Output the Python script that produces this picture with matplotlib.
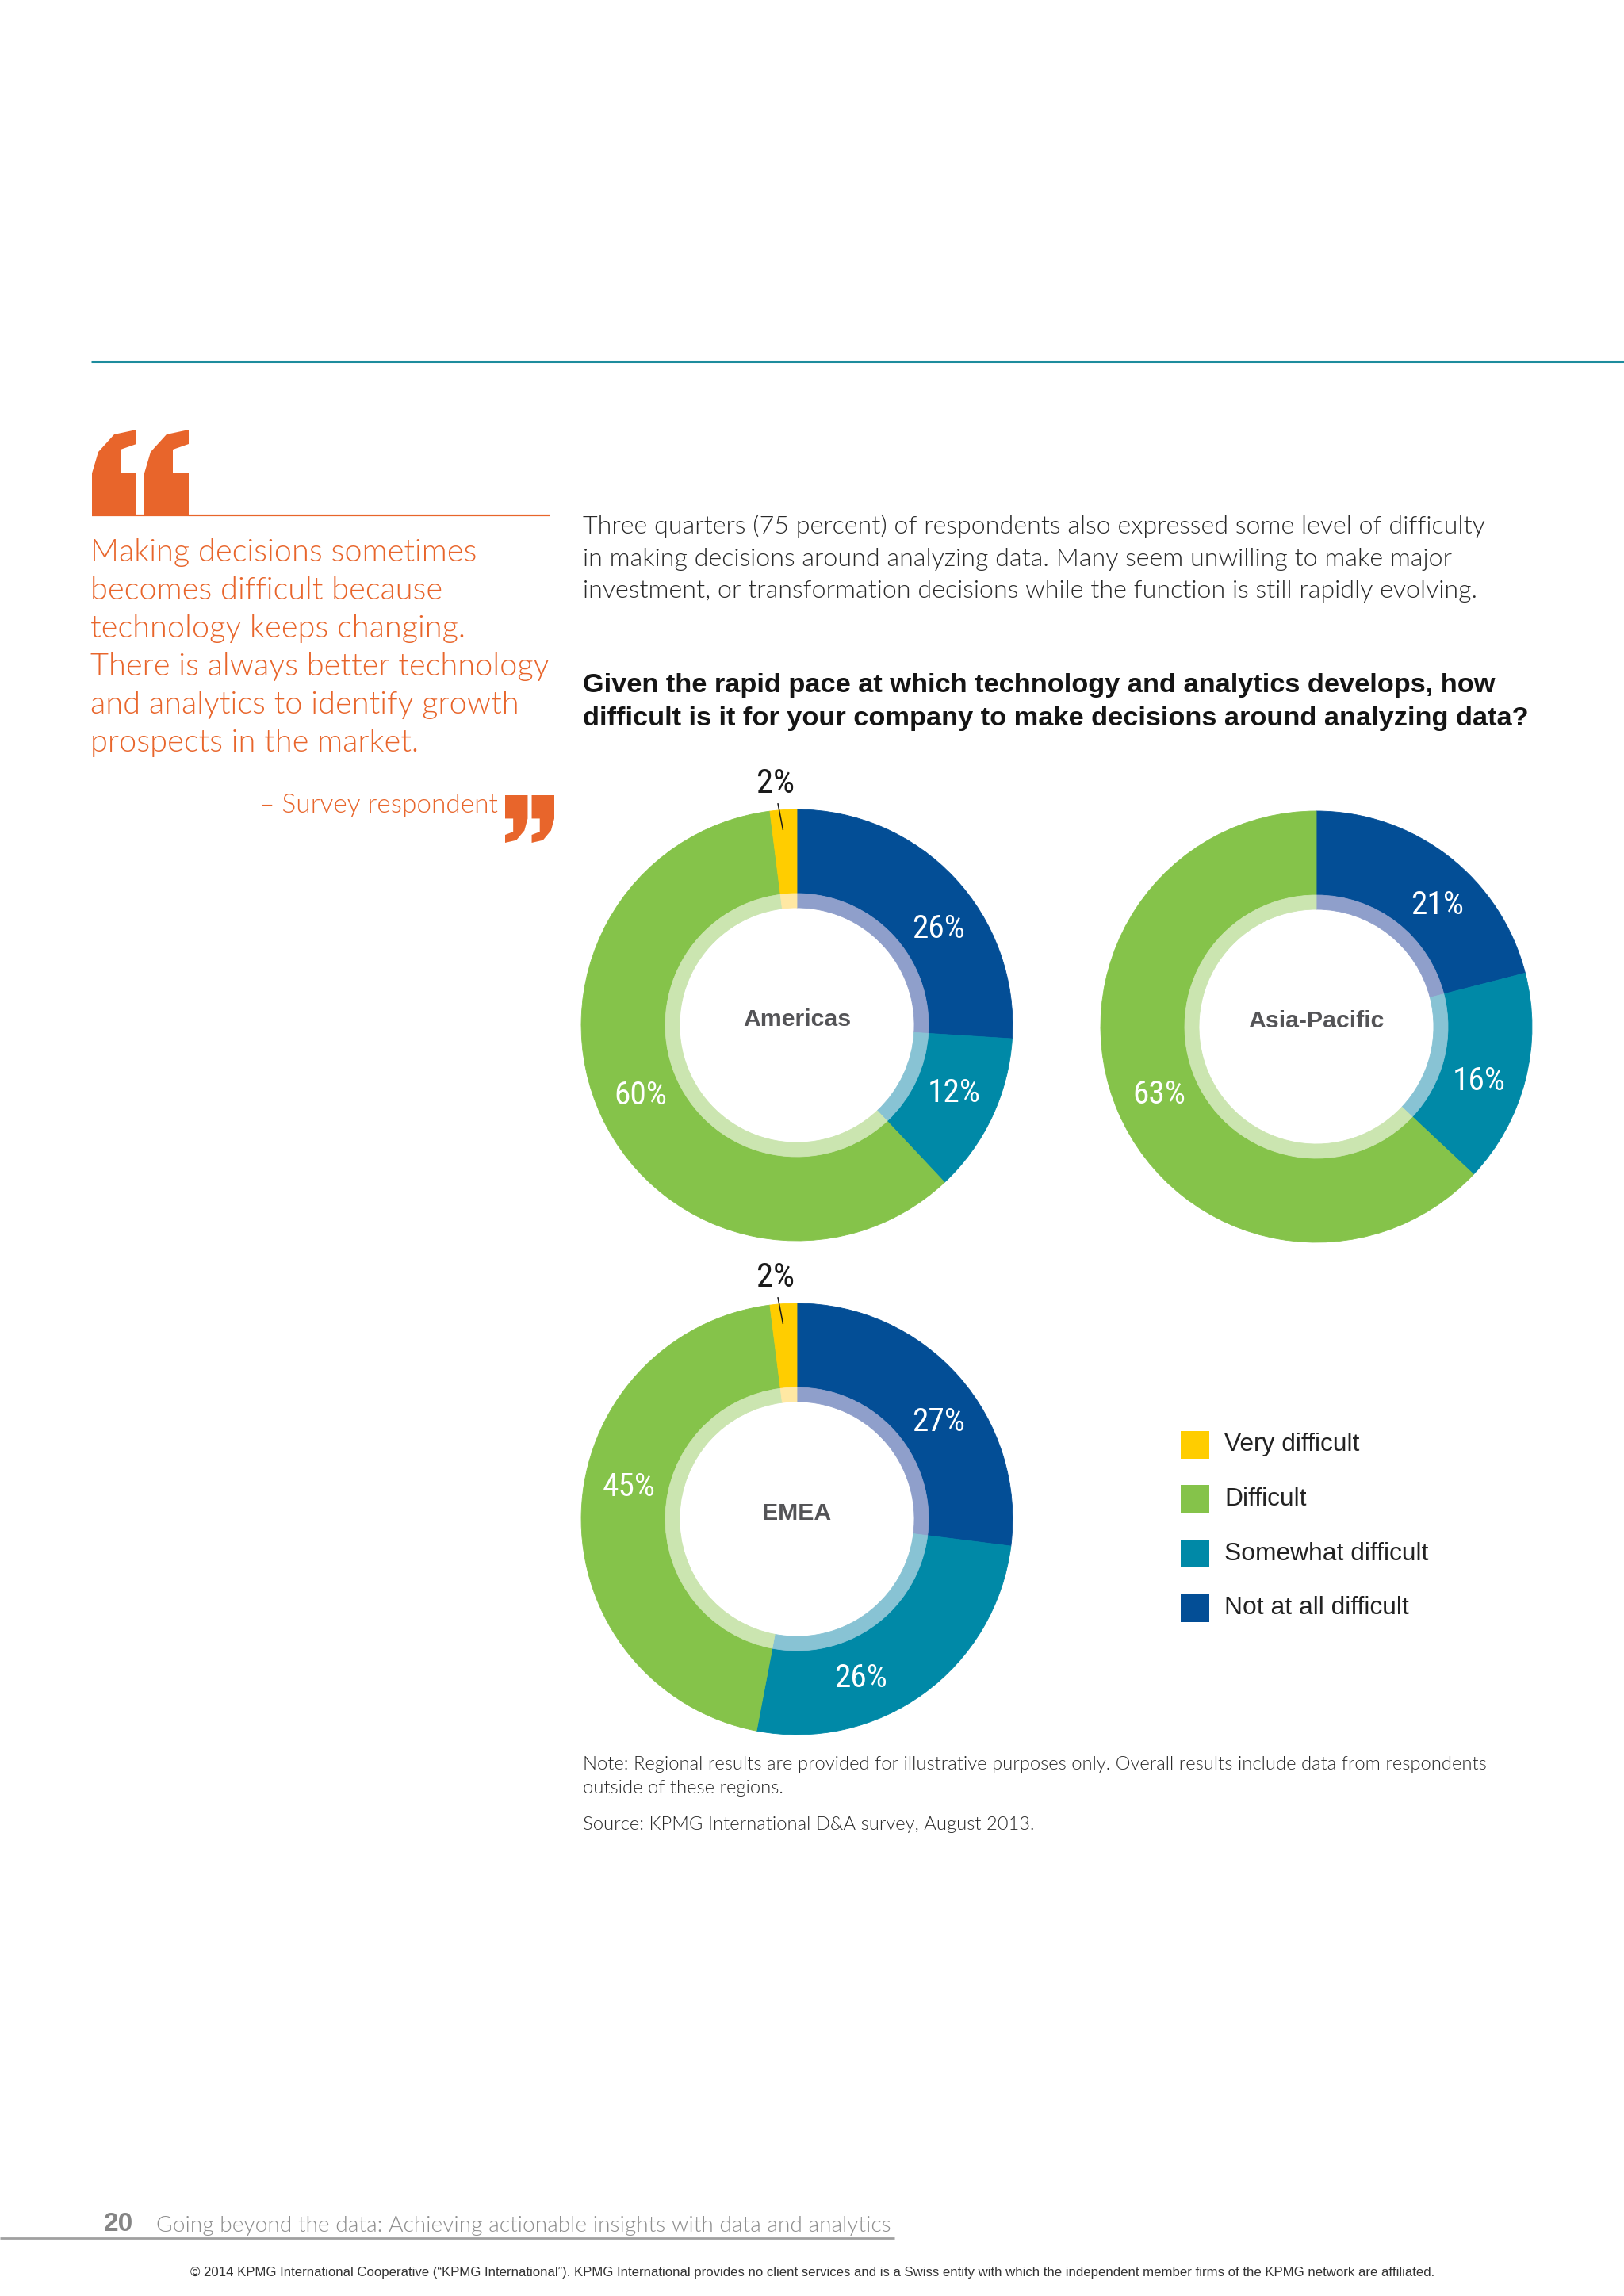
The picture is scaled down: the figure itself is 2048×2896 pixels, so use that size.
import numpy as np
import matplotlib
matplotlib.use('Agg')
import matplotlib.pyplot as plt
from matplotlib.patches import Polygon, Rectangle

# ---------------- data ----------------
regions = ['Americas', 'Asia-Pacific', 'EMEA']
categories = ['Very difficult', 'Difficult', 'Somewhat difficult', 'Not at all difficult']
# percentages per region
very_difficult = [2, 0, 2]
difficult = [60, 63, 45]
somewhat_difficult = [12, 16, 26]
not_at_all_difficult = [26, 21, 27]

cat_colors = ['#FFCD00', '#85C34A', '#0089A7', '#034E96']
ring_colors = ['#FFE8A3', '#CBE5B0', '#88C3D4', '#8F9FCB']

# ---------------- layout (pixel coordinates of the page) ----------------
W, H = 2048, 2896
donut_centers = [(1005, 1293), (1660, 1295), (1005, 1916)]
R_OUT, R_RING, R_HOLE = 272, 166, 148
# small angular nudges (deg) of inside labels, order: not-at-all, somewhat, difficult
label_nudge = [[9, -2, 1], [7, 4, 0], [7, 14, 9]]

ORANGE = '#E8652B'
LIGHT = ['Lato', 'DejaVu Sans']
SANS = ['Liberation Sans', 'DejaVu Sans']
NARROW = ['Roboto Condensed', 'DejaVu Sans']

fig = plt.figure(figsize=(W / 100, H / 100), dpi=100)
fig.patch.set_facecolor('white')
page = fig.add_axes([0, 0, 1, 1])
page.set_xlim(0, W)
page.set_ylim(H, 0)
page.axis('off')
renderer = fig.canvas.get_renderer()


def fit(artists, ref, target_w):
    bb = ref.get_window_extent(renderer)
    fs = ref.get_fontsize() * target_w / bb.width
    for a in artists:
        a.set_fontsize(fs)


def para(lines, x, ys, ref_idx, target_w, **kw):
    ts = [page.text(x, y, s, **kw) for s, y in zip(lines, ys)]
    fit(ts, ts[ref_idx], target_w)
    return ts


# top rule
page.plot([115, W], [456, 456], color='#1D8C9D', lw=2.2, solid_capstyle='butt')

# opening quote glyph (decorative)
glyph = np.array([(116, 650), (172, 650), (172, 597), (152, 597), (152, 567), (172, 560),
                  (172, 542), (144, 548), (124, 570), (116, 597)], dtype=float)
for dx in (0, 66):
    page.add_patch(Polygon(glyph + [dx, 0], closed=True, fc=ORANGE, ec='none'))
page.plot([116, 693], [650, 650], color=ORANGE, lw=1.6, solid_capstyle='butt')

# closing quote glyph: rotated copy
for dx in (0, 66):
    g = glyph + [dx, 0]
    u = (g[:, 0] - 116) / 122.0
    v = (g[:, 1] - 542) / 108.0
    cg = np.column_stack([637 + (1 - u) * 62, 1003 + (1 - v) * 60])
    page.add_patch(Polygon(cg, closed=True, fc=ORANGE, ec='none'))

quote_lines = ['Making decisions sometimes', 'becomes difficult because',
               'technology keeps changing.', 'There is always better technology',
               'and analytics to identify growth', 'prospects in the market.']
para(quote_lines, 114, [697, 745, 793, 841, 889, 937], 3, 580,
     color=ORANGE, family=LIGHT, fontweight=300, va='center', ha='left', fontsize=27)
t = page.text(628, 1016, '\u2013 Survey respondent', color=ORANGE, family=LIGHT,
              fontweight=300, va='center', ha='right', fontsize=22)
fit([t], t, 301)

body = ['Three quarters (75 percent) of respondents also expressed some level of difficulty',
        'in making decisions around analyzing data. Many seem unwilling to make major',
        'investment, or transformation decisions while the function is still rapidly evolving.']
para(body, 735, [664, 705, 746], 0, 1141, color='#2A2A2A', family=LIGHT,
     fontweight=300, va='center', ha='left', fontsize=22)

question = ['Given the rapid pace at which technology and analytics develops, how',
            'difficult is it for your company to make decisions around analyzing data?']
para(question, 735, [865, 906], 1, 1193, color='#151515', family=SANS,
     fontweight='bold', va='center', ha='left', fontsize=22)

# ---------------- donuts ----------------
half = 1.25 * R_OUT
centre_texts = []
inside_labels = []
outside_labels = []
for i, region in enumerate(regions):
    cx, cy = donut_centers[i]
    ax = fig.add_axes([(cx - half) / W, 1 - (cy + half) / H, 2 * half / W, 2 * half / H])
    vals = [not_at_all_difficult[i], somewhat_difficult[i], difficult[i], very_difficult[i]]
    cols = [cat_colors[3], cat_colors[2], cat_colors[1], cat_colors[0]]
    rcols = [ring_colors[3], ring_colors[2], ring_colors[1], ring_colors[0]]
    keep = [k for k, v in enumerate(vals) if v > 0]
    v_k = [vals[k] for k in keep]
    w1, _ = ax.pie(v_k, colors=[cols[k] for k in keep], radius=1.0, startangle=90,
                   counterclock=False, wedgeprops=dict(width=1 - R_RING / R_OUT, linewidth=0))
    w2, _ = ax.pie(v_k, colors=[rcols[k] for k in keep], radius=R_RING / R_OUT, startangle=90,
                   counterclock=False, wedgeprops=dict(width=(R_RING - R_HOLE) / R_OUT, linewidth=0))
    for w in list(w1) + list(w2):
        w.set_edgecolor(w.get_facecolor())
        w.set_linewidth(0.6)
    ax.set_xlim(-1.25, 1.25)
    ax.set_ylim(-1.25, 1.25)
    ax.set_aspect('equal')
    ax.axis('off')

    total = float(sum(vals))
    cum = 0.0
    for k, v in enumerate(vals):
        if v <= 0:
            continue
        mid = 360.0 * (cum + v / 2.0) / total
        cum += v
        if v >= 5:
            th = np.radians(mid + label_nudge[i][k])
            r = 216.0 / R_OUT
            inside_labels.append(ax.text(r * np.sin(th), r * np.cos(th), f'{v}%', ha='center',
                                         va='center', color='white', family=NARROW,
                                         fontstretch='condensed', fontsize=29))
        else:
            thl = np.radians(mid - 1.4)
            outside_labels.append(ax.text(1.125 * np.sin(thl), 1.125 * np.cos(thl), f'{v}%',
                                          ha='center', va='center', color='#1A1A1A',
                                          family=NARROW, fontstretch='condensed', fontsize=27))
            a0, a1 = np.radians(mid - 0.5), np.radians(mid - 1.3)
            ax.plot([0.91 * np.sin(a0), 1.03 * np.sin(a1)], [0.91 * np.cos(a0), 1.03 * np.cos(a1)],
                    color='#1A1A1A', lw=1.1)
    centre_texts.append(ax.text(0, 0.025, region, ha='center', va='center', color='#545457',
                                family=SANS, fontweight='bold', fontsize=20))

fit(centre_texts, centre_texts[0], 136)
fit(inside_labels, inside_labels[0], 67)
fit(outside_labels, outside_labels[0], 48)

# ---------------- legend ----------------
leg_texts = []
for i, (cat, col) in enumerate(zip(categories, cat_colors)):
    y = 1822 + i * 68.8
    page.add_patch(Rectangle((1489, y - 17.5), 36, 35, fc=col, ec='none'))
    leg_texts.append(page.text(1544, y, cat, color='#222222', family=SANS,
                               va='center', ha='left', fontsize=22))
fit(leg_texts, leg_texts[2], 256)

# ---------------- notes ----------------
notes = ['Note: Regional results are provided for illustrative purposes only. Overall results include data from respondents',
         'outside of these regions.',
         'Source: KPMG International D&A survey, August 2013.']
para(notes, 735, [2226, 2255, 2302], 0, 1135, color='#2A2A2A', family=LIGHT,
     fontweight=300, va='center', ha='left', fontsize=16)

# ---------------- footer ----------------
page.text(131, 2806, '20', color='#858585', family=SANS, fontweight='bold',
          va='center', ha='left', fontsize=24)
ft = page.text(197, 2808, 'Going beyond the data: Achieving actionable insights with data and analytics',
               color='#8E8E8E', family=LIGHT, fontweight=300, va='center', ha='left', fontsize=20)
fit([ft], ft, 928)
page.plot([0, 1128], [2823, 2823], color='#A0A0A0', lw=2.0, solid_capstyle='butt')
cp = page.text(240, 2866, '\u00a9 2014 KPMG International Cooperative (\u201cKPMG International\u201d). KPMG International provides no client services and is a Swiss entity with which the independent member firms of the KPMG network are affiliated.',
               color='#333333', family=SANS, va='center', ha='left', fontsize=11)
fit([cp], cp, 1562)

fig.savefig('out.png', dpi=100, facecolor='white')
